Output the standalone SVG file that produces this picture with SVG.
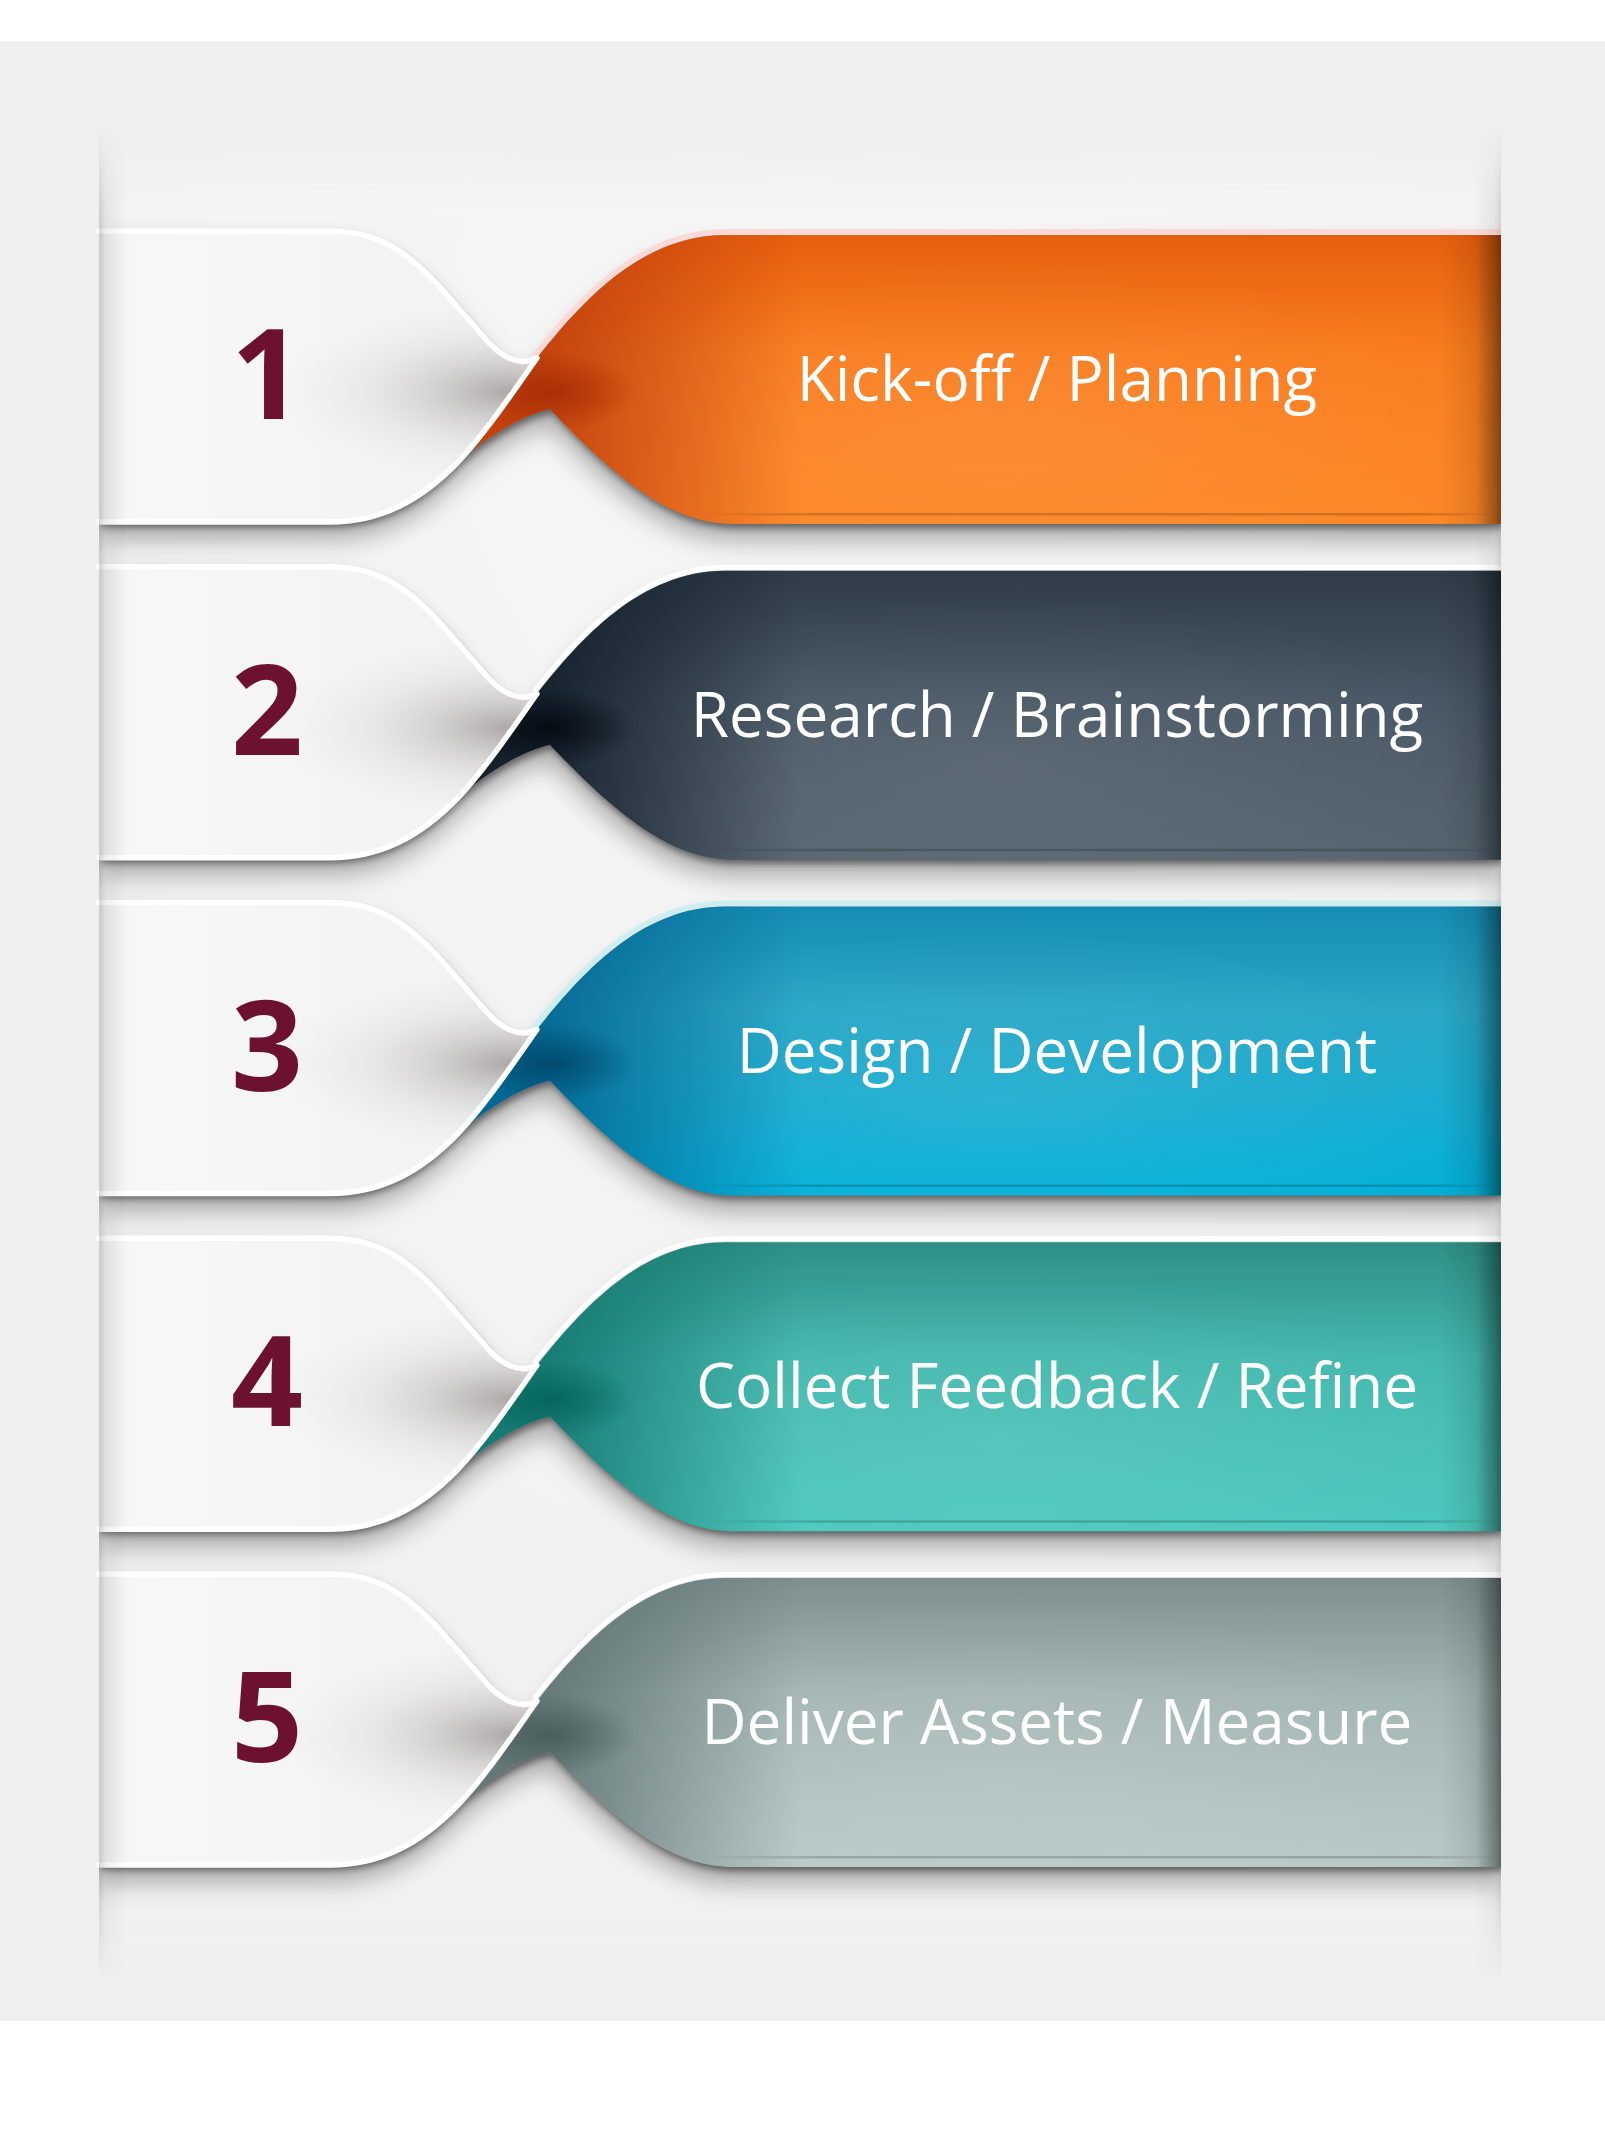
<svg xmlns="http://www.w3.org/2000/svg" xmlns:xlink="http://www.w3.org/1999/xlink" width="1605" height="2129" viewBox="0 0 1605 2129">
<style>
.num{font-family:"Open Sans","Liberation Sans",sans-serif;font-weight:700;font-size:126px;fill:#6d1130;text-anchor:middle}
.lbl{font-family:"Open Sans","Liberation Sans",sans-serif;font-weight:400;font-size:62px;fill:#ffffff;text-anchor:middle}
.edge{fill:none;stroke:#ffffff;stroke-width:5.5;stroke-linejoin:round;stroke-linecap:round}
</style>
<defs>
  <path id="tabShape" d="M 99,1 H 330 C 375,1 405,20 440,58 L 490,115 Q 515,140 537,129 C 515,160 485,205 457,234 C 420,272 380,294 330,294 H 99 Z"/>
  <path id="tabEdge" d="M 99,2 H 330 C 375,2 405,20 440,58 L 490,115 Q 515,140 537,129 C 515,160 485,205 457,234 C 420,272 380,293 330,293 H 99"/>
  <path id="colShape" d="M 537,129 C 580,75 640,6 725,6 H 1501 V 295 H 735 C 680,295 630,265 550,180 C 525,185 485,208 456,235 C 485,205 515,160 537,129 Z"/>
  <path id="colTop" d="M 534,127 C 578,71 640,2.5 725,2.5 H 1501"/>
  <clipPath id="panelClip" clipPathUnits="userSpaceOnUse"><rect x="99" y="-60" width="1402" height="420"/></clipPath>
  <filter id="shadow" x="-5%" y="-20%" width="110%" height="150%">
    <feGaussianBlur in="SourceAlpha" stdDeviation="3.5" result="b1"/>
    <feOffset in="b1" dx="2" dy="4" result="o1"/>
    <feFlood flood-color="#000" flood-opacity="0.45"/>
    <feComposite in2="o1" operator="in" result="s1"/>
    <feGaussianBlur in="SourceAlpha" stdDeviation="13" result="b2"/>
    <feOffset in="b2" dy="16" result="o2"/>
    <feFlood flood-color="#000" flood-opacity="0.32"/>
    <feComposite in2="o2" operator="in" result="s2"/>
    <feMerge><feMergeNode in="s2"/><feMergeNode in="s1"/></feMerge>
  </filter>
  <linearGradient id="vfadeGrad" x1="0" y1="0" x2="0" y2="1">
    <stop offset="0" stop-color="#000"/>
    <stop offset="0.045" stop-color="#fff"/>
    <stop offset="0.945" stop-color="#fff"/>
    <stop offset="1" stop-color="#000"/>
  </linearGradient>
  <mask id="vfade" maskUnits="userSpaceOnUse" x="0" y="0" width="1605" height="2129">
    <rect x="0" y="130" width="1605" height="1850" fill="url(#vfadeGrad)"/>
  </mask>
  <linearGradient id="leftEdge" x1="0" y1="0" x2="1" y2="0">
    <stop offset="0" stop-color="#000" stop-opacity="0.16"/>
    <stop offset="0.25" stop-color="#000" stop-opacity="0.06"/>
    <stop offset="1" stop-color="#000" stop-opacity="0"/>
  </linearGradient>
  <linearGradient id="rightEdge" x1="0" y1="0" x2="1" y2="0">
    <stop offset="0" stop-color="#000" stop-opacity="0"/>
    <stop offset="0.75" stop-color="#000" stop-opacity="0.06"/>
    <stop offset="1" stop-color="#000" stop-opacity="0.14"/>
  </linearGradient>
  <radialGradient id="panelGlow" cx="0.5" cy="0.12" r="0.7">
    <stop offset="0" stop-color="#f6f6f6"/>
    <stop offset="1" stop-color="#f2f2f2"/>
  </radialGradient>
  <linearGradient id="tabFill" gradientUnits="userSpaceOnUse" x1="99" y1="0" x2="540" y2="0">
    <stop offset="0" stop-color="#eeeeee"/>
    <stop offset="0.08" stop-color="#f7f7f7"/>
    <stop offset="0.6" stop-color="#f4f4f4"/>
    <stop offset="1" stop-color="#f1f1f1"/>
  </linearGradient>
  <radialGradient id="tabShade" gradientUnits="userSpaceOnUse" cx="0" cy="0" r="1" gradientTransform="translate(510,163) scale(235,88)">
    <stop offset="0" stop-color="#a9a4a4" stop-opacity="0.95"/>
    <stop offset="0.3" stop-color="#bab6b6" stop-opacity="0.6"/>
    <stop offset="0.6" stop-color="#cccaca" stop-opacity="0.28"/>
    <stop offset="1" stop-color="#dddddd" stop-opacity="0"/>
  </radialGradient>
  <linearGradient id="colRight" gradientUnits="userSpaceOnUse" x1="1440" y1="0" x2="1501" y2="0">
    <stop offset="0" stop-color="#000" stop-opacity="0"/>
    <stop offset="0.6" stop-color="#000" stop-opacity="0.1"/>
    <stop offset="1" stop-color="#000" stop-opacity="0.4"/>
  </linearGradient>
  <linearGradient id="colBottom" gradientUnits="userSpaceOnUse" x1="700" y1="0" x2="1501" y2="0">
    <stop offset="0" stop-color="#000" stop-opacity="0"/>
    <stop offset="0.15" stop-color="#000" stop-opacity="0.18"/>
    <stop offset="0.9" stop-color="#000" stop-opacity="0.18"/>
    <stop offset="1" stop-color="#000" stop-opacity="0"/>
  </linearGradient>
  <radialGradient id="colSheen" gradientUnits="userSpaceOnUse" cx="0" cy="0" r="1" gradientTransform="translate(1000,200) scale(520,170)">
    <stop offset="0" stop-color="#fff" stop-opacity="0.08"/>
    <stop offset="1" stop-color="#fff" stop-opacity="0"/>
  </radialGradient>

  <!-- ribbon 1 orange -->
  <linearGradient id="base1" x1="0" y1="0" x2="0" y2="1">
    <stop offset="0" stop-color="#e75f0e"/>
    <stop offset="0.4" stop-color="#f97c1e"/>
    <stop offset="1" stop-color="#fc8726"/>
  </linearGradient>
  <linearGradient id="left1" gradientUnits="userSpaceOnUse" x1="530" y1="0" x2="800" y2="0">
    <stop offset="0" stop-color="#b8360a" stop-opacity="0.85"/>
    <stop offset="1" stop-color="#b8360a" stop-opacity="0"/>
  </linearGradient>
  <radialGradient id="pinch1" gradientUnits="userSpaceOnUse" cx="0" cy="0" r="1" gradientTransform="translate(550,163) scale(85,40)">
    <stop offset="0" stop-color="#a82e06" stop-opacity="1"/>
    <stop offset="1" stop-color="#a82e06" stop-opacity="0"/>
  </radialGradient>
  <!-- ribbon 2 slate -->
  <linearGradient id="base2" x1="0" y1="0" x2="0" y2="1">
    <stop offset="0" stop-color="#2f3c48"/>
    <stop offset="0.45" stop-color="#485765"/>
    <stop offset="1" stop-color="#56656f"/>
  </linearGradient>
  <linearGradient id="left2" gradientUnits="userSpaceOnUse" x1="530" y1="0" x2="800" y2="0">
    <stop offset="0" stop-color="#0c1722" stop-opacity="0.85"/>
    <stop offset="1" stop-color="#0c1722" stop-opacity="0"/>
  </linearGradient>
  <radialGradient id="pinch2" gradientUnits="userSpaceOnUse" cx="0" cy="0" r="1" gradientTransform="translate(550,163) scale(85,40)">
    <stop offset="0" stop-color="#050c14" stop-opacity="1"/>
    <stop offset="1" stop-color="#050c14" stop-opacity="0"/>
  </radialGradient>
  <!-- ribbon 3 blue -->
  <linearGradient id="base3" x1="0" y1="0" x2="0" y2="1">
    <stop offset="0" stop-color="#168cb4"/>
    <stop offset="0.35" stop-color="#2aa6c6"/>
    <stop offset="1" stop-color="#03b0d8"/>
  </linearGradient>
  <linearGradient id="left3" gradientUnits="userSpaceOnUse" x1="530" y1="0" x2="800" y2="0">
    <stop offset="0" stop-color="#00628e" stop-opacity="0.9"/>
    <stop offset="1" stop-color="#00628e" stop-opacity="0"/>
  </linearGradient>
  <radialGradient id="pinch3" gradientUnits="userSpaceOnUse" cx="0" cy="0" r="1" gradientTransform="translate(550,163) scale(85,40)">
    <stop offset="0" stop-color="#024a6e" stop-opacity="1"/>
    <stop offset="1" stop-color="#024a6e" stop-opacity="0"/>
  </radialGradient>
  <!-- ribbon 4 teal -->
  <linearGradient id="base4" x1="0" y1="0" x2="0" y2="1">
    <stop offset="0" stop-color="#2f8f85"/>
    <stop offset="0.4" stop-color="#43b8ae"/>
    <stop offset="1" stop-color="#4cc8be"/>
  </linearGradient>
  <linearGradient id="left4" gradientUnits="userSpaceOnUse" x1="530" y1="0" x2="800" y2="0">
    <stop offset="0" stop-color="#0d6e66" stop-opacity="0.85"/>
    <stop offset="1" stop-color="#0d6e66" stop-opacity="0"/>
  </linearGradient>
  <radialGradient id="pinch4" gradientUnits="userSpaceOnUse" cx="0" cy="0" r="1" gradientTransform="translate(550,163) scale(85,40)">
    <stop offset="0" stop-color="#06665e" stop-opacity="1"/>
    <stop offset="1" stop-color="#06665e" stop-opacity="0"/>
  </radialGradient>
  <!-- ribbon 5 grey-green -->
  <linearGradient id="base5" x1="0" y1="0" x2="0" y2="1">
    <stop offset="0" stop-color="#7d8f8e"/>
    <stop offset="0.4" stop-color="#a4b6b4"/>
    <stop offset="1" stop-color="#b8cac8"/>
  </linearGradient>
  <linearGradient id="left5" gradientUnits="userSpaceOnUse" x1="530" y1="0" x2="800" y2="0">
    <stop offset="0" stop-color="#566b6b" stop-opacity="0.85"/>
    <stop offset="1" stop-color="#566b6b" stop-opacity="0"/>
  </linearGradient>
  <radialGradient id="pinch5" gradientUnits="userSpaceOnUse" cx="0" cy="0" r="1" gradientTransform="translate(550,163) scale(85,40)">
    <stop offset="0" stop-color="#4a5e5e" stop-opacity="1"/>
    <stop offset="1" stop-color="#4a5e5e" stop-opacity="0"/>
  </radialGradient>
</defs>

<!-- background -->
<rect x="0" y="0" width="1605" height="2129" fill="#ffffff"/>
<rect x="0" y="41" width="1605" height="1980" fill="#efefef"/>
<g id="panel" mask="url(#vfade)">
  <rect x="99" y="130" width="1402" height="1850" fill="url(#panelGlow)"/>
</g>

<!-- ribbon shadows -->
<g id="shadows">
  <g transform="translate(0,229)" clip-path="url(#panelClip)"><g filter="url(#shadow)"><use href="#tabShape"/><use href="#colShape"/></g></g>
  <g transform="translate(0,564.75)" clip-path="url(#panelClip)"><g filter="url(#shadow)"><use href="#tabShape"/><use href="#colShape"/></g></g>
  <g transform="translate(0,900.5)" clip-path="url(#panelClip)"><g filter="url(#shadow)"><use href="#tabShape"/><use href="#colShape"/></g></g>
  <g transform="translate(0,1236.25)" clip-path="url(#panelClip)"><g filter="url(#shadow)"><use href="#tabShape"/><use href="#colShape"/></g></g>
  <g transform="translate(0,1572)" clip-path="url(#panelClip)"><g filter="url(#shadow)"><use href="#tabShape"/><use href="#colShape"/></g></g>
</g>

<g id="step1" transform="translate(0,229)">
  <use href="#colShape" fill="url(#base1)"/>
  <use href="#colShape" fill="url(#colSheen)"/>
  <use href="#colShape" fill="url(#left1)"/>
  <use href="#colShape" fill="url(#pinch1)"/>
  <use href="#colShape" fill="url(#colRight)"/>
  <rect x="700" y="284" width="801" height="2.5" fill="url(#colBottom)"/>
  <use href="#colTop" fill="none" stroke="#fbd9d6" stroke-width="5"/>
  <use href="#tabShape" fill="url(#tabFill)"/>
  <use href="#tabShape" fill="url(#tabShade)"/>
  <use href="#tabEdge" class="edge"/>
  <text class="num" x="267" y="190">1</text>
  <text class="lbl" x="1057" y="172">Kick-off / Planning</text>
</g>

<g id="step2" transform="translate(0,564.75)">
  <use href="#colShape" fill="url(#base2)"/>
  <use href="#colShape" fill="url(#colSheen)"/>
  <use href="#colShape" fill="url(#left2)"/>
  <use href="#colShape" fill="url(#pinch2)"/>
  <use href="#colShape" fill="url(#colRight)"/>
  <rect x="700" y="284" width="801" height="2.5" fill="url(#colBottom)"/>
  <use href="#colTop" fill="none" stroke="#ffffff" stroke-width="5"/>
  <use href="#tabShape" fill="url(#tabFill)"/>
  <use href="#tabShape" fill="url(#tabShade)"/>
  <use href="#tabEdge" class="edge"/>
  <text class="num" x="267" y="190">2</text>
  <text class="lbl" x="1057" y="172">Research / Brainstorming</text>
</g>

<g id="step3" transform="translate(0,900.5)">
  <use href="#colShape" fill="url(#base3)"/>
  <use href="#colShape" fill="url(#colSheen)"/>
  <use href="#colShape" fill="url(#left3)"/>
  <use href="#colShape" fill="url(#pinch3)"/>
  <use href="#colShape" fill="url(#colRight)"/>
  <rect x="700" y="284" width="801" height="2.5" fill="url(#colBottom)"/>
  <use href="#colTop" fill="none" stroke="#cdeef1" stroke-width="5"/>
  <use href="#tabShape" fill="url(#tabFill)"/>
  <use href="#tabShape" fill="url(#tabShade)"/>
  <use href="#tabEdge" class="edge"/>
  <text class="num" x="267" y="190">3</text>
  <text class="lbl" x="1057" y="172">Design / Development</text>
</g>

<g id="step4" transform="translate(0,1236.25)">
  <use href="#colShape" fill="url(#base4)"/>
  <use href="#colShape" fill="url(#colSheen)"/>
  <use href="#colShape" fill="url(#left4)"/>
  <use href="#colShape" fill="url(#pinch4)"/>
  <use href="#colShape" fill="url(#colRight)"/>
  <rect x="700" y="284" width="801" height="2.5" fill="url(#colBottom)"/>
  <use href="#colTop" fill="none" stroke="#ffffff" stroke-width="5"/>
  <use href="#tabShape" fill="url(#tabFill)"/>
  <use href="#tabShape" fill="url(#tabShade)"/>
  <use href="#tabEdge" class="edge"/>
  <text class="num" x="267" y="190">4</text>
  <text class="lbl" x="1057" y="172">Collect Feedback / Refine</text>
</g>

<g id="step5" transform="translate(0,1572)">
  <use href="#colShape" fill="url(#base5)"/>
  <use href="#colShape" fill="url(#colSheen)"/>
  <use href="#colShape" fill="url(#left5)"/>
  <use href="#colShape" fill="url(#pinch5)"/>
  <use href="#colShape" fill="url(#colRight)"/>
  <rect x="700" y="284" width="801" height="2.5" fill="url(#colBottom)"/>
  <use href="#colTop" fill="none" stroke="#ffffff" stroke-width="5"/>
  <use href="#tabShape" fill="url(#tabFill)"/>
  <use href="#tabShape" fill="url(#tabShade)"/>
  <use href="#tabEdge" class="edge"/>
  <text class="num" x="267" y="190">5</text>
  <text class="lbl" x="1057" y="172">Deliver Assets / Measure</text>
</g>

<!-- panel edge shading -->
<g id="panelEdges" mask="url(#vfade)">
  <rect x="99" y="130" width="28" height="1850" fill="url(#leftEdge)"/>
  <rect x="1474" y="130" width="27" height="1850" fill="url(#rightEdge)"/>
</g>
</svg>
